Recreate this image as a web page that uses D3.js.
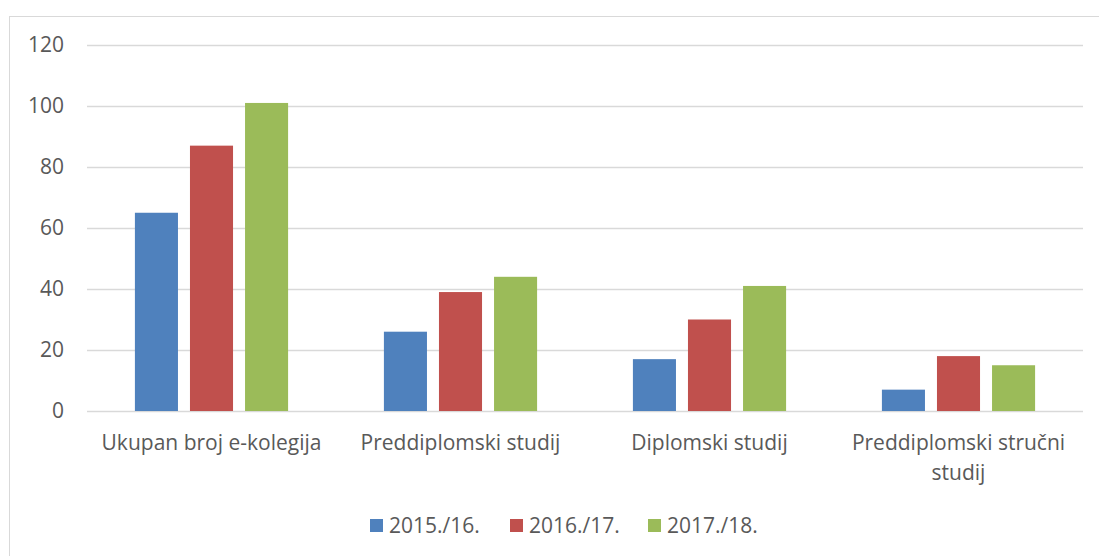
<!DOCTYPE html>
<html>
<head>
<meta charset="utf-8">
<script src="https://cdn.jsdelivr.net/npm/d3@7"></script>
<style>
  body { margin: 0; background: #fff; }
  svg text { font-family: "Open Sans", Lato, sans-serif; fill: #595959; }
</style>
</head>
<body>
<svg id="chart" width="1099" height="556"></svg>
<script>
// data
const categories = ['Ukupan broj e-kolegija', 'Preddiplomski studij', 'Diplomski studij', 'Preddiplomski stručni studij'];
const seriesNames = ['2015./16.', '2016./17.', '2017./18.'];
const values2015 = [65, 26, 17, 7];
const values2016 = [87, 39, 30, 18];
const values2017 = [101, 44, 41, 15];
const yTicks = [0, 20, 40, 60, 80, 100, 120];
const colors = ['#4f81bd', '#c0504d', '#9bbb59'];

const seriesValues = [values2015, values2016, values2017];
const fontSize = 21;

const svg = d3.select('#chart');

// outer frame
svg.append('rect')
  .attr('x', 9.5).attr('y', 16.5)
  .attr('width', 1099).attr('height', 560)
  .attr('fill', 'none')
  .attr('stroke', '#d9d9d9');

const plot = { left: 87, right: 1083, top: 45, bottom: 411 };

const y = d3.scaleLinear().domain([0, 120]).range([plot.bottom, plot.top]);
const x = d3.scaleBand().domain(categories).range([plot.left, plot.right]);
const inner = d3.scaleBand().domain(seriesNames)
  .range([0, x.bandwidth()])
  .paddingInner(0.218).paddingOuter(0.87);

// gridlines
svg.append('g')
  .selectAll('line')
  .data(yTicks)
  .enter()
  .append('line')
  .attr('x1', plot.left).attr('x2', plot.right)
  .attr('y1', d => Math.round(y(d)) + 0.5)
  .attr('y2', d => Math.round(y(d)) + 0.5)
  .attr('stroke', '#d9d9d9')
  .attr('stroke-width', 1.3);

// y labels
svg.append('g')
  .selectAll('text')
  .data(yTicks)
  .enter()
  .append('text')
  .attr('x', 64)
  .attr('y', d => y(d))
  .attr('dy', '0.35em')
  .attr('text-anchor', 'end')
  .attr('font-size', fontSize)
  .text(d => d);

// bars
seriesNames.forEach((name, si) => {
  svg.append('g')
    .selectAll('rect')
    .data(categories.map((c, i) => ({ c, v: seriesValues[si][i] })))
    .enter()
    .append('rect')
    .attr('x', d => x(d.c) + inner(name))
    .attr('width', inner.bandwidth())
    .attr('y', d => y(d.v))
    .attr('height', d => y(0) - y(d.v))
    .attr('fill', colors[si]);
});

// category labels, wrapped to fit
const labelWidth = 232;
svg.append('g')
  .selectAll('text')
  .data(categories)
  .enter()
  .append('text')
  .attr('text-anchor', 'middle')
  .attr('font-size', fontSize)
  .each(function(d) {
    const t = d3.select(this);
    const cx = x(d) + x.bandwidth() / 2;
    const words = d.split(' ');
    const lines = [];
    let line = [];
    words.forEach(w => {
      line.push(w);
      t.text(line.join(' '));
      if (this.getComputedTextLength() > labelWidth && line.length > 1) {
        line.pop();
        lines.push(line.join(' '));
        line = [w];
      }
    });
    lines.push(line.join(' '));
    t.text(null);
    lines.forEach((l, i) => {
      t.append('tspan').attr('x', cx).attr('y', 450 + i * 30).text(l);
    });
  });

// legend
const legendX = [370, 510, 648];
const legend = svg.append('g')
  .selectAll('g')
  .data(seriesNames)
  .enter()
  .append('g')
  .attr('transform', (d, i) => `translate(${legendX[i]}, 519)`);

legend.append('rect')
  .attr('width', 13).attr('height', 13)
  .attr('fill', (d, i) => colors[i]);

legend.append('text')
  .attr('x', 19).attr('y', 7)
  .attr('dy', '0.35em')
  .attr('font-size', fontSize)
  .text(d => d);
</script>
</body>
</html>
